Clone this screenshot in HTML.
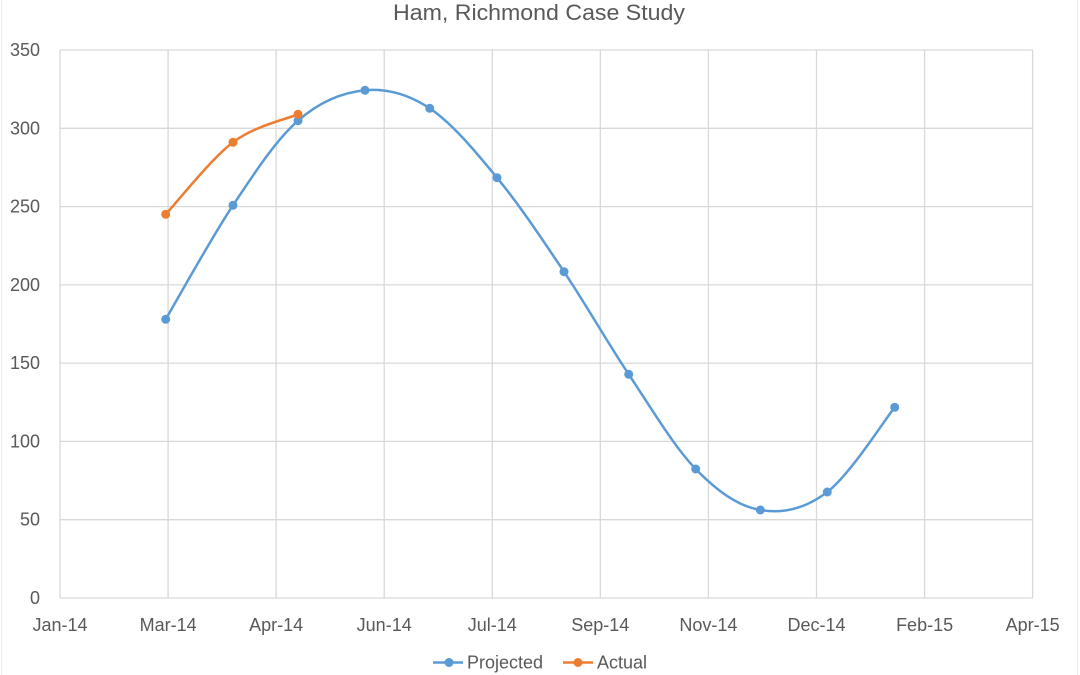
<!DOCTYPE html>
<html>
<head>
<meta charset="utf-8">
<style>
  html, body { margin:0; padding:0; background:#fff; }
  svg { display:block; }
  text { font-family: "Liberation Sans", sans-serif; fill:#595959; }
</style>
</head>
<body>
<svg width="1080" height="675" viewBox="0 0 1080 675" xmlns="http://www.w3.org/2000/svg">
  <rect x="0" y="0" width="1080" height="675" fill="#fff"/>
  <line x1="1.5" y1="0" x2="1.5" y2="675" stroke="#ececec" stroke-width="1"/>
  <line x1="1077.5" y1="0" x2="1077.5" y2="675" stroke="#ececec" stroke-width="1"/>

  <text x="539" y="20" font-size="22" text-anchor="middle" textLength="292" lengthAdjust="spacingAndGlyphs">Ham, Richmond Case Study</text>

  <g stroke="#d9d9d9" stroke-width="1.3" fill="none">
    <line x1="60" y1="50" x2="1033" y2="50"/>
    <line x1="60" y1="128.3" x2="1033" y2="128.3"/>
    <line x1="60" y1="206.6" x2="1033" y2="206.6"/>
    <line x1="60" y1="284.9" x2="1033" y2="284.9"/>
    <line x1="60" y1="363.1" x2="1033" y2="363.1"/>
    <line x1="60" y1="441.4" x2="1033" y2="441.4"/>
    <line x1="60" y1="519.7" x2="1033" y2="519.7"/>
    <line x1="60" y1="50" x2="60" y2="598"/>
    <line x1="168.1" y1="50" x2="168.1" y2="598"/>
    <line x1="276.1" y1="50" x2="276.1" y2="598"/>
    <line x1="384.2" y1="50" x2="384.2" y2="598"/>
    <line x1="492.3" y1="50" x2="492.3" y2="598"/>
    <line x1="600.3" y1="50" x2="600.3" y2="598"/>
    <line x1="708.4" y1="50" x2="708.4" y2="598"/>
    <line x1="816.5" y1="50" x2="816.5" y2="598"/>
    <line x1="924.6" y1="50" x2="924.6" y2="598"/>
    <line x1="1032.6" y1="50" x2="1032.6" y2="598"/>
    <line x1="60" y1="598" x2="1033" y2="598"/>
  </g>

  <g font-size="18" text-anchor="end">
    <text x="40" y="56">350</text>
    <text x="40" y="134.3">300</text>
    <text x="40" y="212.6">250</text>
    <text x="40" y="290.9">200</text>
    <text x="40" y="369.1">150</text>
    <text x="40" y="447.4">100</text>
    <text x="40" y="525.7">50</text>
    <text x="40" y="604">0</text>
  </g>

  <g font-size="18" text-anchor="middle">
    <text x="60" y="631">Jan-14</text>
    <text x="168.1" y="631">Mar-14</text>
    <text x="276.1" y="631">Apr-14</text>
    <text x="384.2" y="631">Jun-14</text>
    <text x="492.3" y="631">Jul-14</text>
    <text x="600.3" y="631">Sep-14</text>
    <text x="708.4" y="631">Nov-14</text>
    <text x="816.5" y="631">Dec-14</text>
    <text x="924.6" y="631">Feb-15</text>
    <text x="1032.6" y="631">Apr-15</text>
  </g>

  <!-- Projected -->
  <path fill="none" stroke="#5B9BD5" stroke-width="2.5" stroke-linecap="round" stroke-linejoin="round"
    d="M165.7,319.3 C176.9,300.3 210.95,238.4 233,205.3
       C255.05,172.2 276,139.9 298,120.7
       C320,101.5 343.05,92.4 365,90.3
       C386.95,88.2 407.7,93.7 429.7,108.3
       C451.7,122.9 474.6,150.5 497,177.7
       C519.4,204.9 542.05,238.9 564,271.7
       C585.95,304.5 606.75,341.4 628.7,374.3
       C650.65,407.2 673.8,446.4 695.7,469
       C717.6,491.6 738.4,506.2 760.3,510
       C782.2,513.8 804.9,509.1 827.3,492
       C849.7,474.9 883.5,421.4 894.7,407.3"/>
  <g fill="#5B9BD5">
    <circle cx="165.7" cy="319.3" r="4.5"/>
    <circle cx="233" cy="205.3" r="4.5"/>
    <circle cx="298" cy="120.7" r="4.5"/>
    <circle cx="365" cy="90.3" r="4.5"/>
    <circle cx="429.7" cy="108.3" r="4.5"/>
    <circle cx="497" cy="177.7" r="4.5"/>
    <circle cx="564" cy="271.7" r="4.5"/>
    <circle cx="628.7" cy="374.3" r="4.5"/>
    <circle cx="695.7" cy="469" r="4.5"/>
    <circle cx="760.3" cy="510" r="4.5"/>
    <circle cx="827.3" cy="492" r="4.5"/>
    <circle cx="894.7" cy="407.3" r="4.5"/>
  </g>

  <!-- Actual -->
  <path fill="none" stroke="#ED7D31" stroke-width="2.5" stroke-linecap="round" stroke-linejoin="round"
    d="M165.7,214.3 C176.9,202.3 210.95,159 233,142.3
       C255.05,125.6 287.2,119 298,114.3"/>
  <g fill="#ED7D31">
    <circle cx="165.7" cy="214.3" r="4.5"/>
    <circle cx="233" cy="142.3" r="4.5"/>
    <circle cx="298" cy="114.3" r="4.5"/>
  </g>

  <!-- Legend -->
  <line x1="433" y1="662.5" x2="463" y2="662.5" stroke="#5B9BD5" stroke-width="2.5"/>
  <circle cx="449" cy="662.5" r="4.5" fill="#5B9BD5"/>
  <text x="467" y="668.5" font-size="18">Projected</text>
  <line x1="563" y1="662.5" x2="593" y2="662.5" stroke="#ED7D31" stroke-width="2.5"/>
  <circle cx="578" cy="662.5" r="4.5" fill="#ED7D31"/>
  <text x="597" y="668.5" font-size="18">Actual</text>
</svg>
</body>
</html>
